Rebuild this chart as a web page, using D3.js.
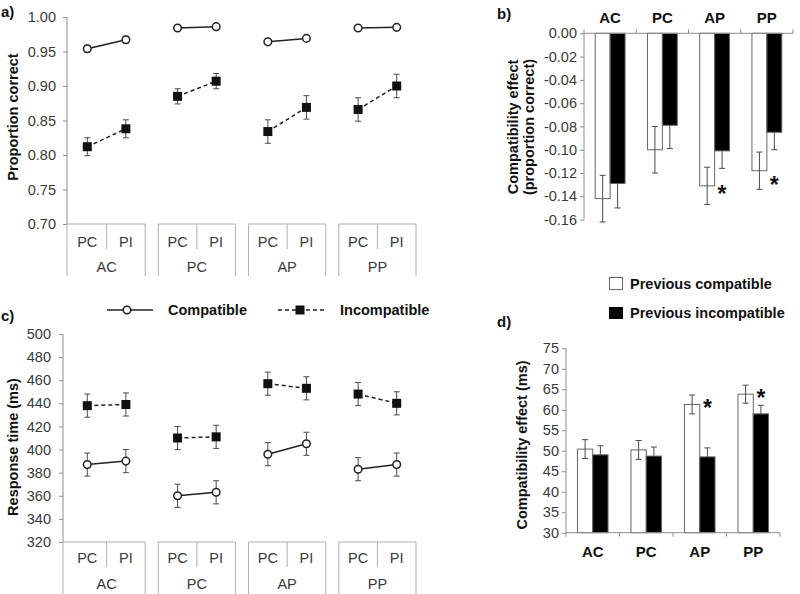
<!DOCTYPE html>
<html>
<head>
<meta charset="utf-8">
<script src="https://cdn.jsdelivr.net/npm/d3@7"></script>
<style>
  body { margin: 0; background: #fff; }
  text { font-family: "Liberation Sans", Arial, sans-serif; }
</style>
</head>
<body>
<svg id="chart" width="800" height="594"></svg>
<script>
// DATA
// ---------------------------------------------------------------------------------------------
const tasks = ["AC", "PC", "AP", "PP"];
const prevTrial = ["PC", "PI"];

// a) proportion correct, order: AC-PC, AC-PI, PC-PC, PC-PI, AP-PC, AP-PI, PP-PC, PP-PI
const accTicks = [0.70, 0.75, 0.80, 0.85, 0.90, 0.95, 1.00];
const accCompatible = [0.954, 0.967, 0.984, 0.986, 0.964, 0.969, 0.984, 0.985];
const accCompatibleErr = [0.005, 0.005, 0.002, 0.002, 0.002, 0.002, 0.002, 0.002];
const accIncompatible = [0.812, 0.838, 0.885, 0.907, 0.834, 0.869, 0.866, 0.900];
const accIncompatibleErr = [0.013, 0.013, 0.011, 0.011, 0.017, 0.017, 0.017, 0.017];

// c) response time (ms)
const rtTicks = [320, 340, 360, 380, 400, 420, 440, 460, 480, 500];
const rtCompatible = [387, 390, 360, 363, 396, 405, 383, 387];
const rtCompatibleErr = [10, 10, 10, 10, 10, 10, 10, 10];
const rtIncompatible = [438, 439, 410, 411, 457, 453, 448, 440];
const rtIncompatibleErr = [10, 10, 10, 10, 10, 10, 10, 10];

// b) compatibility effect (proportion correct)
const effAccTicks = [-0.16, -0.14, -0.12, -0.10, -0.08, -0.06, -0.04, -0.02, 0.00];
const effAccPrevComp = [-0.142, -0.100, -0.131, -0.118];
const effAccPrevCompErr = [0.020, 0.020, 0.016, 0.016];
const effAccPrevIncomp = [-0.129, -0.079, -0.101, -0.085];
const effAccPrevIncompErr = [0.021, 0.020, 0.015, 0.015];
const effAccStars = [null, null, -0.134, -0.126];

// d) compatibility effect (ms)
const effRtTicks = [30, 35, 40, 45, 50, 55, 60, 65, 70, 75];
const effRtPrevComp = [50.4, 50.2, 61.3, 63.8];
const effRtPrevCompErr = [2.3, 2.3, 2.3, 2.2];
const effRtPrevIncomp = [49.0, 48.7, 48.5, 59.0];
const effRtPrevIncompErr = [2.2, 2.2, 2.2, 2.1];
const effRtStars = [null, null, 61.6, 64.1];

// STYLE
// ---------------------------------------------------------------------------------------------
const svg = d3.select("#chart");
const axisGray = "#8e8e8e";
const boxGray = "#b0b0b0";
const textGray = "#3a3a3a";
const errGray = "#4a4a4a";

function styleAxis(ax, size) {
    ax.select(".domain").remove();
    ax.selectAll(".tick line").attr("stroke", axisGray);
    ax.selectAll(".tick text").attr("fill", textGray).style("font-size", size + "px");
}

function errorBar(g, cx, yLo, yHi) {
    g.append("line").attr("x1", cx).attr("x2", cx).attr("y1", yLo).attr("y2", yHi);
    g.append("line").attr("x1", cx - 3).attr("x2", cx + 3).attr("y1", yLo).attr("y2", yLo);
    g.append("line").attr("x1", cx - 3).attr("x2", cx + 3).attr("y1", yHi).attr("y2", yHi);
}

// LINE PANELS (a, c)
// ---------------------------------------------------------------------------------------------
function linePanel(o) {
    const g = svg.append("g");
    const y = d3.scaleLinear().domain(o.domain).range(o.range);
    const grp = d3.scaleBand().domain(tasks).range([68, 416]).paddingInner(0.145);
    const sub = d3.scaleBand().domain(prevTrial).range([0, grp.bandwidth()]);
    const xPos = i => grp(tasks[Math.floor(i / 2)]) + sub(prevTrial[i % 2]) + sub.bandwidth() / 2;

    // y axis
    const ax = g.append("g")
        .attr("transform", `translate(${o.axisX},0)`)
        .call(d3.axisLeft(y).tickValues(o.ticks).tickFormat(o.fmt).tickSize(4).tickPadding(o.pad));
    styleAxis(ax, 14.5);
    g.append("line")
        .attr("x1", o.axisX).attr("x2", o.axisX)
        .attr("y1", o.range[1]).attr("y2", o.range[0])
        .attr("stroke", axisGray);

    // two level category axis
    tasks.forEach((t, i) => {
        const x0 = i === 0 ? o.axisX : grp(t);
        const x1 = grp(t) + grp.bandwidth();
        const xm = grp(t) + sub.bandwidth();
        g.append("line").attr("x1", x0).attr("x2", x1).attr("y1", o.range[0]).attr("y2", o.range[0]).attr("stroke", boxGray);
        g.append("line").attr("x1", x0).attr("x2", x0).attr("y1", o.range[0]).attr("y2", o.boxBottom).attr("stroke", boxGray);
        g.append("line").attr("x1", x1).attr("x2", x1).attr("y1", o.range[0]).attr("y2", o.boxBottom).attr("stroke", boxGray);
        g.append("line").attr("x1", xm).attr("x2", xm).attr("y1", o.range[0]).attr("y2", o.sepBottom).attr("stroke", boxGray);
        prevTrial.forEach(p => {
            g.append("text")
                .attr("x", grp(t) + sub(p) + sub.bandwidth() / 2)
                .attr("y", o.subLabelY)
                .attr("text-anchor", "middle")
                .attr("fill", textGray)
                .style("font-size", "14.5px")
                .text(p);
        });
        g.append("text")
            .attr("x", (x0 + x1) / 2 + (i === 0 ? (grp(t) - x0) / 2 : 0))
            .attr("y", o.grpLabelY)
            .attr("text-anchor", "middle")
            .attr("fill", textGray)
            .style("font-size", "14.5px")
            .text(t);
    });

    // series
    o.series.forEach(s => {
        tasks.forEach((t, k) => {
            const pair = [2 * k, 2 * k + 1];
            g.append("path")
                .datum(pair)
                .attr("fill", "none")
                .attr("stroke", "#222")
                .attr("stroke-width", 1.5)
                .attr("stroke-dasharray", s.dash)
                .attr("d", d3.line().x(i => xPos(i)).y(i => y(s.values[i])));
        });
        const eb = g.append("g").attr("stroke", errGray).attr("stroke-width", 1);
        s.values.forEach((v, i) => errorBar(eb, xPos(i), y(v - s.err[i]), y(v + s.err[i])));
        if (s.marker === "circle") {
            g.selectAll(null).data(s.values).enter().append("circle")
                .attr("cx", (d, i) => xPos(i))
                .attr("cy", d => y(d))
                .attr("r", 3.8)
                .attr("fill", "#fff")
                .attr("stroke", "#222")
                .attr("stroke-width", 1.5);
        } else {
            g.selectAll(null).data(s.values).enter().append("rect")
                .attr("x", (d, i) => xPos(i) - 4.5)
                .attr("y", d => y(d) - 4.5)
                .attr("width", 9)
                .attr("height", 9)
                .attr("fill", "#111");
        }
    });

    // axis title
    g.append("text")
        .attr("transform", `translate(${o.titleX},${o.titleY}) rotate(-90)`)
        .attr("text-anchor", "middle")
        .attr("font-weight", "bold")
        .style("font-size", "14.5px")
        .attr("fill", "#111")
        .text(o.title);
}

linePanel({
    domain: [0.70, 1.00], range: [224, 17], ticks: accTicks, fmt: d => d.toFixed(2), pad: 7,
    axisX: 67, boxBottom: 276, sepBottom: 249, subLabelY: 247, grpLabelY: 272,
    title: "Proportion correct", titleX: 18, titleY: 117,
    series: [
        { values: accCompatible, err: accCompatibleErr, marker: "circle", dash: null },
        { values: accIncompatible, err: accIncompatibleErr, marker: "square", dash: "4,3" }
    ]
});

linePanel({
    domain: [320, 500], range: [542, 334], ticks: rtTicks, fmt: d => d, pad: 8,
    axisX: 63, boxBottom: 594, sepBottom: 567, subLabelY: 563, grpLabelY: 589,
    title: "Response time (ms)", titleX: 18, titleY: 447,
    series: [
        { values: rtCompatible, err: rtCompatibleErr, marker: "circle", dash: null },
        { values: rtIncompatible, err: rtIncompatibleErr, marker: "square", dash: "4,3" }
    ]
});

// BAR PANELS (b, d)
// ---------------------------------------------------------------------------------------------
function barPanel(o) {
    const g = svg.append("g");
    const y = d3.scaleLinear().domain(o.domain).range(o.range);
    const x = d3.scaleBand().domain(tasks).range(o.xRange);
    const inner = d3.scaleBand().domain(["comp", "incomp"]).range([0, x.bandwidth()]).paddingOuter(0.75);
    const base = y(o.base);
    const cx = (key, i) => x(tasks[i]) + inner(key) + inner.bandwidth() / 2;

    // y axis
    const ax = g.append("g")
        .attr("transform", `translate(${o.xRange[0]},0)`)
        .call(d3.axisLeft(y).tickValues(o.ticks).tickFormat(o.fmt).tickSize(4).tickPadding(o.pad));
    styleAxis(ax, 14.5);
    g.append("line")
        .attr("x1", o.xRange[0]).attr("x2", o.xRange[0])
        .attr("y1", o.range[1]).attr("y2", o.range[0])
        .attr("stroke", axisGray);

    // black bar error bars go underneath, so the inner half is hidden by the bar
    const ebBack = g.append("g").attr("stroke", errGray).attr("stroke-width", 1);
    o.incomp.forEach((v, i) => errorBar(ebBack, cx("incomp", i), y(v - o.incompErr[i]), y(v + o.incompErr[i])));

    const sets = [
        { key: "comp", values: o.comp, fill: "#fff" },
        { key: "incomp", values: o.incomp, fill: "#000" }
    ];
    sets.forEach(s => {
        g.selectAll(null).data(s.values).enter().append("rect")
            .attr("x", (d, i) => x(tasks[i]) + inner(s.key))
            .attr("y", d => Math.min(base, y(d)))
            .attr("width", inner.bandwidth())
            .attr("height", d => Math.abs(y(d) - base))
            .attr("fill", s.fill)
            .attr("stroke", "#666")
            .attr("stroke-width", 1);
    });

    const ebFront = g.append("g").attr("stroke", errGray).attr("stroke-width", 1);
    o.comp.forEach((v, i) => errorBar(ebFront, cx("comp", i), y(v - o.compErr[i]), y(v + o.compErr[i])));

    // stars
    o.stars.forEach((v, i) => {
        if (v === null) return;
        g.append("text")
            .attr("x", cx("incomp", i))
            .attr("y", y(v) + 13)
            .attr("text-anchor", "middle")
            .attr("font-weight", "bold")
            .style("font-size", "23px")
            .attr("fill", "#111")
            .text("*");
    });

    // category axis
    g.append("line")
        .attr("x1", o.xRange[0]).attr("x2", o.xRange[1])
        .attr("y1", base).attr("y2", base)
        .attr("stroke", axisGray);
    tasks.concat(["end"]).forEach((t, i) => {
        const tx = i < tasks.length ? x(t) : o.xRange[1];
        g.append("line").attr("x1", tx).attr("x2", tx).attr("y1", base).attr("y2", base + o.tickDir * 4).attr("stroke", axisGray);
    });
    tasks.forEach(t => {
        g.append("text")
            .attr("x", x(t) + x.bandwidth() / 2)
            .attr("y", o.catLabelY)
            .attr("text-anchor", "middle")
            .attr("font-weight", "bold")
            .style("font-size", "15px")
            .attr("fill", "#111")
            .text(t);
    });

    // axis title
    o.title.forEach((line, k) => {
        g.append("text")
            .attr("transform", `translate(${o.titleX + k * 16},${o.titleY}) rotate(-90)`)
            .attr("text-anchor", "middle")
            .attr("font-weight", "bold")
            .style("font-size", "14.5px")
            .attr("fill", "#111")
            .text(line);
    });
}

barPanel({
    domain: [-0.16, 0], range: [219.6, 33.3], ticks: effAccTicks, fmt: d => d.toFixed(2), pad: 3,
    xRange: [584, 793], base: 0, tickDir: -1, catLabelY: 23,
    comp: effAccPrevComp, compErr: effAccPrevCompErr,
    incomp: effAccPrevIncomp, incompErr: effAccPrevIncompErr, stars: effAccStars,
    title: ["Compatibility effect", "(proportion correct)"], titleX: 518, titleY: 127
});

barPanel({
    domain: [30, 75], range: [532.7, 348.3], ticks: effRtTicks, fmt: d => d, pad: 3,
    xRange: [566, 780], base: 30, tickDir: 1, catLabelY: 557,
    comp: effRtPrevComp, compErr: effRtPrevCompErr,
    incomp: effRtPrevIncomp, incompErr: effRtPrevIncompErr, stars: effRtStars,
    title: ["Compatibility effect (ms)"], titleX: 527, titleY: 445
});

// LEGENDS
// ---------------------------------------------------------------------------------------------
const leg = svg.append("g");
leg.append("line").attr("x1", 107).attr("x2", 153).attr("y1", 310).attr("y2", 310).attr("stroke", "#222").attr("stroke-width", 1.5);
leg.append("circle").attr("cx", 127).attr("cy", 310).attr("r", 3.8).attr("fill", "#fff").attr("stroke", "#222").attr("stroke-width", 1.5);
leg.append("text").attr("x", 168).attr("y", 315).attr("font-weight", "bold").style("font-size", "14.5px").attr("fill", "#111").text("Compatible");
leg.append("line").attr("x1", 278).attr("x2", 325).attr("y1", 310).attr("y2", 310).attr("stroke", "#222").attr("stroke-width", 1.5).attr("stroke-dasharray", "4,3");
leg.append("rect").attr("x", 295.5).attr("y", 305.5).attr("width", 9).attr("height", 9).attr("fill", "#111");
leg.append("text").attr("x", 340).attr("y", 315).attr("font-weight", "bold").style("font-size", "14.5px").attr("fill", "#111").text("Incompatible");

leg.append("rect").attr("x", 609.5).attr("y", 277.5).attr("width", 13).attr("height", 12).attr("fill", "#fff").attr("stroke", "#666");
leg.append("text").attr("x", 630).attr("y", 289).attr("font-weight", "bold").style("font-size", "14.5px").attr("fill", "#111").text("Previous compatible");
leg.append("rect").attr("x", 609).attr("y", 307).attr("width", 14).attr("height", 12).attr("fill", "#000");
leg.append("text").attr("x", 630).attr("y", 318).attr("font-weight", "bold").style("font-size", "14.5px").attr("fill", "#111").text("Previous incompatible");

// PANEL LABELS
// ---------------------------------------------------------------------------------------------
[["a)", 1, 17], ["b)", 497, 19], ["c)", 1, 321], ["d)", 497, 327]].forEach(p => {
    svg.append("text").attr("x", p[1]).attr("y", p[2]).attr("font-weight", "bold").style("font-size", "15px").attr("fill", "#111").text(p[0]);
});
</script>
</body>
</html>
